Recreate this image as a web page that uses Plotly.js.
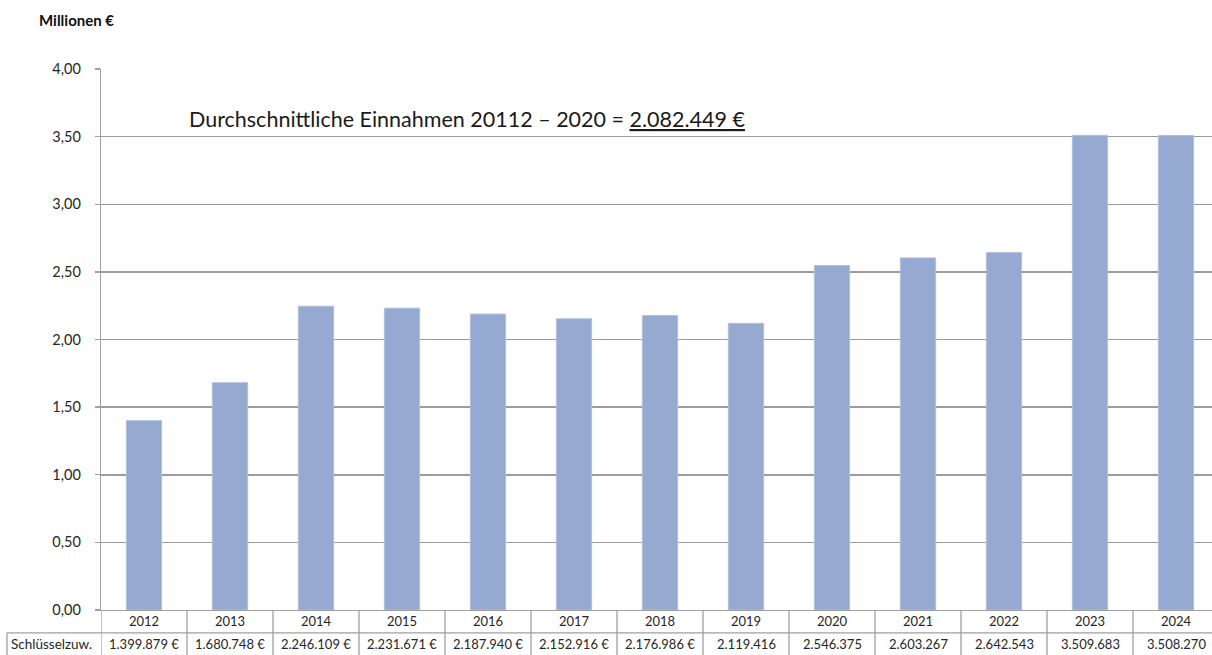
<!DOCTYPE html>
<html>
<head>
<meta charset="utf-8">
<script src="https://cdn.plot.ly/plotly-3.0.1.min.js"></script>
<style>
html,body{margin:0;padding:0;background:#fff;overflow:hidden;}
#chart{width:1212px;height:655px;}
</style>
</head>
<body>
<div id="chart"></div>
<script>
// Data
const years = ["2012","2013","2014","2015","2016","2017","2018","2019","2020","2021","2022","2023","2024"];
const valuesEuro = [1399879, 1680748, 2246109, 2231671, 2187940, 2152916, 2176986, 2119416, 2546375, 2603267, 2642543, 3509683, 3508270];
const tableLabels = ["1.399.879 €","1.680.748 €","2.246.109 €","2.231.671 €","2.187.940 €","2.152.916 €","2.176.986 €","2.119.416","2.546.375","2.603.267","2.642.543","3.509.683","3.508.270"];
const rowHeader = "Schlüsselzuw.";
const yTicks = [0, 0.5, 1, 1.5, 2, 2.5, 3, 3.5, 4];
const yUnit = "Millionen €";
const noteText = "Durchschnittliche Einnahmen 20112 – 2020 = ";
const noteValue = "2.082.449 €";

const valuesMio = valuesEuro.map(v => v / 1e6);
const idx = years.map((_, i) => i);

const FONT = "Lato, 'Open Sans', sans-serif";
const lineCol = "#a0a0a0";
const textCol = "#262626";

// Plot geometry helpers (paper fractions)
const plotTop = 69, plotBottom = 610.5, plotLeft = 101;
const plotH = plotBottom - plotTop;
const py = p => (plotBottom - p) / plotH;

const trace = {
  type: "bar",
  x: idx,
  y: valuesMio,
  marker: {color: "#95a9d1", line: {color: "#aebfe0", width: 1}},
  hoverinfo: "skip"
};

const shapes = [];
const annotations = [];

// table vertical lines
for (let i = 0; i <= years.length; i++) {
  shapes.push({type: "line", xref: "x", yref: "paper", x0: i - 0.5, x1: i - 0.5, y0: 0, y1: py(660), line: {color: lineCol, width: 1.3}});
}
// row 2 top line
const headerLeft = (7 - plotLeft) / 1111;
shapes.push({type: "line", xref: "paper", yref: "paper", x0: headerLeft, x1: 1.01, y0: py(633.3), y1: py(633.3), line: {color: lineCol, width: 1.3}});
// header left border
shapes.push({type: "line", xref: "paper", yref: "paper", x0: headerLeft, x1: headerLeft, y0: py(633.3), y1: py(660), line: {color: lineCol, width: 1.3}});

years.forEach((yr, i) => {
  annotations.push({xref: "x", yref: "paper", x: i, y: py(622), text: yr, showarrow: false, xanchor: "center", yanchor: "middle", font: {family: FONT, size: 13, color: textCol}});
  annotations.push({xref: "x", yref: "paper", x: i, y: py(645), text: tableLabels[i], showarrow: false, xanchor: "center", yanchor: "middle", font: {family: FONT, size: 13, color: textCol}});
});
annotations.push({xref: "paper", yref: "paper", x: (9 - plotLeft) / 1111, y: py(645), text: rowHeader, showarrow: false, xanchor: "left", yanchor: "middle", font: {family: FONT, size: 13.5, color: textCol}});

// unit label
annotations.push({xref: "paper", yref: "paper", x: (37 - plotLeft) / 1111, y: py(20), text: "<b>" + yUnit + "</b>", showarrow: false, xanchor: "left", yanchor: "middle", font: {family: FONT, size: 15, color: "#111"}});

// note
annotations.push({xref: "paper", yref: "paper", x: (187 - plotLeft) / 1111, y: py(119), text: noteText + "<u>" + noteValue + "</u>", showarrow: false, xanchor: "left", yanchor: "middle", font: {family: FONT, size: 21.5, color: "#1a1a1a"}});

const layout = {
  width: 1212,
  height: 655,
  margin: {l: plotLeft, r: 0, t: plotTop, b: 655 - plotBottom, pad: 0},
  paper_bgcolor: "#fff",
  plot_bgcolor: "#fff",
  separators: ",.",
  showlegend: false,
  bargap: 0.59,
  xaxis: {
    type: "linear",
    range: [-0.5, -0.5 + 1111 / 86],
    showticklabels: false,
    ticks: "",
    showgrid: false,
    zeroline: false,
    showline: true,
    linecolor: lineCol,
    linewidth: 1.3,
    fixedrange: true
  },
  yaxis: {
    range: [0, 4],
    tickvals: yTicks,
    tickformat: ".2f",
    ticks: "outside",
    ticklen: 5,
    tickcolor: lineCol,
    tickwidth: 1.3,
    showline: true,
    linecolor: lineCol,
    linewidth: 1.3,
    showgrid: true,
    gridcolor: "#9c9c9c",
    gridwidth: 1.5,
    zeroline: false,
    ticklabelstandoff: 11,
    tickfont: {family: FONT, size: 14.5, color: textCol},
    fixedrange: true
  },
  shapes: shapes,
  annotations: annotations
};

Plotly.newPlot("chart", [trace], layout, {displayModeBar: false, staticPlot: true});
</script>
</body>
</html>
